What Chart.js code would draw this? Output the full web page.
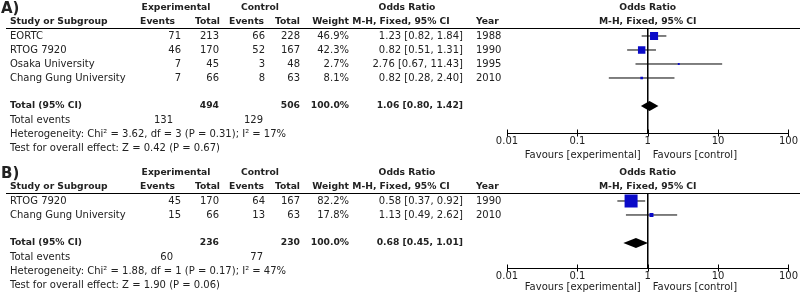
<!DOCTYPE html>
<html>
<head>
<meta charset="utf-8">
<script src="https://cdn.jsdelivr.net/npm/chart.js@4.4.1/dist/chart.umd.min.js"></script>
<style>
  html, body { margin: 0; padding: 0; background: #fff; }
  canvas { display: block; }
</style>
</head>
<body>
<canvas id="forest-a" width="800" height="165"></canvas>
<canvas id="forest-b" width="800" height="132"></canvas>
<script>
const FONT = '"DejaVu Sans", Verdana, sans-serif';
const tickValues = [0.01, 0.1, 1, 10, 100];
const tickLabels = ['0.01', '0.1', '1', '10', '100'];

// A) all four trials
const studiesA = ['EORTC', 'RTOG 7920', 'Osaka University', 'Chang Gung University'];
const expEventsA = [71, 46, 7, 7];
const expTotalA = [213, 170, 45, 66];
const ctlEventsA = [66, 52, 3, 8];
const ctlTotalA = [228, 167, 48, 63];
const weightA = [46.9, 42.3, 2.7, 8.1];
const orA = [1.23, 0.82, 2.76, 0.82];
const loA = [0.82, 0.51, 0.67, 0.28];
const hiA = [1.84, 1.31, 11.43, 2.40];
const yearA = [1988, 1990, 1995, 2010];
const totalsA = [494, 506];
const totalEventsA = [131, 129];
const pooledA = [1.06, 0.80, 1.42];
const statsA = ['Heterogeneity: Chi\u00B2 = 3.62, df = 3 (P = 0.31); I\u00B2 = 17%',
                'Test for overall effect: Z = 0.42 (P = 0.67)'];

// B) two trials
const studiesB = ['RTOG 7920', 'Chang Gung University'];
const expEventsB = [45, 15];
const expTotalB = [170, 66];
const ctlEventsB = [64, 13];
const ctlTotalB = [167, 63];
const weightB = [82.2, 17.8];
const orB = [0.58, 1.13];
const loB = [0.37, 0.49];
const hiB = [0.92, 2.62];
const yearB = [1990, 2010];
const totalsB = [236, 230];
const totalEventsB = [60, 77];
const pooledB = [0.68, 0.45, 1.01];
const statsB = ['Heterogeneity: Chi\u00B2 = 1.88, df = 1 (P = 0.17); I\u00B2 = 47%',
                'Test for overall effect: Z = 1.90 (P = 0.06)'];

Chart.defaults.font.family = FONT;
Chart.defaults.font.size = 10;
Chart.defaults.color = '#222';

const f2 = v => v.toFixed(2);
const orText = (o, l, h) => `${f2(o)} [${f2(l)}, ${f2(h)}]`;

function txt(ctx, s, x, y, align, bold, size) {
    ctx.font = `${bold ? 'bold ' : ''}${size || (bold ? 9.2 : 10)}px ${FONT}`;
    ctx.textAlign = align || 'left';
    ctx.textBaseline = 'middle';
    ctx.fillText(s, x, y);
}

function tablePlugin(p) {
    return {
        id: 'forestTable',
        afterDraw(chart) {
            const ctx = chart.ctx;
            const xs = chart.scales.x, ys = chart.scales.y;
            const row = i => ys.getPixelForValue(i);
            const x1 = xs.getPixelForValue(1);
            const n = p.studies.length;
            ctx.save();
            ctx.fillStyle = '#222';

            // headers
            txt(ctx, p.label, 1, row(-2) + 1, 'left', true, 15);
            txt(ctx, 'Experimental', 176, row(-2), 'center', true);
            txt(ctx, 'Control', 260, row(-2), 'center', true);
            txt(ctx, 'Odds Ratio', 407, row(-2), 'center', true);
            txt(ctx, 'Odds Ratio', x1, row(-2), 'center', true);
            txt(ctx, 'Study or Subgroup', 10, row(-1), 'left', true);
            txt(ctx, 'Events', 175, row(-1), 'right', true);
            txt(ctx, 'Total', 220, row(-1), 'right', true);
            txt(ctx, 'Events', 264, row(-1), 'right', true);
            txt(ctx, 'Total', 300, row(-1), 'right', true);
            txt(ctx, 'Weight', 349, row(-1), 'right', true);
            txt(ctx, 'M-H, Fixed, 95% CI', 401, row(-1), 'center', true);
            txt(ctx, 'Year', 476, row(-1), 'left', true);
            txt(ctx, 'M-H, Fixed, 95% CI', x1, row(-1), 'center', true);

            ctx.strokeStyle = '#000';
            ctx.lineWidth = 1;
            ctx.beginPath();
            ctx.moveTo(6, chart.chartArea.top - 0.5);
            ctx.lineTo(800, chart.chartArea.top - 0.5);
            ctx.stroke();

            // study rows
            p.studies.forEach((s, i) => {
                const y = row(i);
                txt(ctx, s, 10, y);
                txt(ctx, String(p.expEv[i]), 181, y, 'right');
                txt(ctx, String(p.expTot[i]), 219, y, 'right');
                txt(ctx, String(p.ctlEv[i]), 265, y, 'right');
                txt(ctx, String(p.ctlTot[i]), 300, y, 'right');
                txt(ctx, p.weight[i].toFixed(1) + '%', 349, y, 'right');
                txt(ctx, orText(p.or[i], p.lo[i], p.hi[i]), 463, y, 'right');
                txt(ctx, String(p.year[i]), 476, y);
            });

            // totals
            const yt = row(n + 1);
            txt(ctx, 'Total (95% CI)', 10, yt, 'left', true);
            txt(ctx, String(p.totals[0]), 219, yt, 'right', true);
            txt(ctx, String(p.totals[1]), 300, yt, 'right', true);
            txt(ctx, '100.0%', 349, yt, 'right', true);
            txt(ctx, orText(p.pooled[0], p.pooled[1], p.pooled[2]), 463, yt, 'right', true);
            txt(ctx, 'Total events', 10, row(n + 2));
            txt(ctx, String(p.totalEvents[0]), 173, row(n + 2), 'right');
            txt(ctx, String(p.totalEvents[1]), 263, row(n + 2), 'right');
            txt(ctx, p.stats[0], 10, row(n + 3));
            txt(ctx, p.stats[1], 10, row(n + 4));

            // pooled diamond
            const dy = 0.36;
            ctx.fillStyle = '#000';
            ctx.beginPath();
            ctx.moveTo(xs.getPixelForValue(p.pooled[1]), row(n + 1));
            ctx.lineTo(xs.getPixelForValue(p.pooled[0]), row(n + 1 - dy));
            ctx.lineTo(xs.getPixelForValue(p.pooled[2]), row(n + 1));
            ctx.lineTo(xs.getPixelForValue(p.pooled[0]), row(n + 1 + dy));
            ctx.closePath();
            ctx.fill();

            // ticks crossing the axis
            const ay = Math.round(xs.top) + 0.5;
            ctx.beginPath();
            tickValues.forEach(v => {
                const px = Math.round(xs.getPixelForValue(v)) + 0.5;
                ctx.moveTo(px, ay - 4);
                ctx.lineTo(px, ay + 3);
            });
            ctx.stroke();

            ctx.fillStyle = '#222';
            txt(ctx, 'Favours [experimental]', x1 - 7, p.favoursY, 'right');
            txt(ctx, 'Favours [control]', x1 + 5, p.favoursY, 'left');
            ctx.restore();
        }
    };
}

function drawForest(id, p) {
    const ctx = document.getElementById(id).getContext('2d');
    const ciSets = p.lo.map((lo, i) => ({
        type: 'line',
        data: [{ x: lo, y: i }, { x: p.hi[i], y: i }],
        borderColor: '#000',
        borderWidth: 1,
        pointRadius: 0,
        order: 2
    }));
    const refLine = {
        type: 'line',
        data: [{ x: 1, y: p.yMin }, { x: 1, y: p.yMax }],
        borderColor: '#000',
        borderWidth: 1,
        pointRadius: 0,
        order: 3
    };
    const squares = {
        type: 'scatter',
        data: p.or.map((v, i) => ({ x: v, y: i })),
        pointStyle: 'rect',
        pointRadius: p.weight.map(w => (1.5 + 0.14 * w) / Math.SQRT2),
        backgroundColor: '#0a0ac8',
        borderWidth: 0,
        order: 1
    };

    return new Chart(ctx, {
        type: 'scatter',
        data: { datasets: [squares, ...ciSets, refLine] },
        options: {
            responsive: false,
            animation: false,
            layout: { padding: { left: 507, right: 11, top: 29, bottom: 0 } },
            plugins: { legend: { display: false }, tooltip: { enabled: false } },
            scales: {
                x: {
                    type: 'logarithmic',
                    min: 0.01,
                    max: 100,
                    afterBuildTicks: s => { s.ticks = tickValues.map(v => ({ value: v })); },
                    afterFit: s => { s.height = p.axisH; },
                    grid: { display: false, drawTicks: false },
                    border: { display: true, color: '#000', width: 1 },
                    ticks: {
                        padding: 2,
                        color: '#222',
                        maxRotation: 0,
                        autoSkip: false,
                        callback: (v, i) => tickLabels[i]
                    }
                },
                y: {
                    type: 'linear',
                    display: false,
                    reverse: true,
                    min: p.yMin,
                    max: p.yMax
                }
            }
        },
        plugins: [tablePlugin(p)]
    });
}

drawForest('forest-a', {
    label: 'A)', studies: studiesA, expEv: expEventsA, expTot: expTotalA,
    ctlEv: ctlEventsA, ctlTot: ctlTotalA, weight: weightA, or: orA, lo: loA, hi: hiA,
    year: yearA, totals: totalsA, totalEvents: totalEventsA, pooled: pooledA, stats: statsA,
    yMin: -0.5, yMax: 6.93, axisH: 32, favoursY: 155
});
drawForest('forest-b', {
    label: 'B)', studies: studiesB, expEv: expEventsB, expTot: expTotalB,
    ctlEv: ctlEventsB, ctlTot: ctlTotalB, weight: weightB, or: orB, lo: loB, hi: hiB,
    year: yearB, totals: totalsB, totalEvents: totalEventsB, pooled: pooledB, stats: statsB,
    yMin: -0.5, yMax: 4.79, axisH: 29, favoursY: 122
});
</script>
</body>
</html>
